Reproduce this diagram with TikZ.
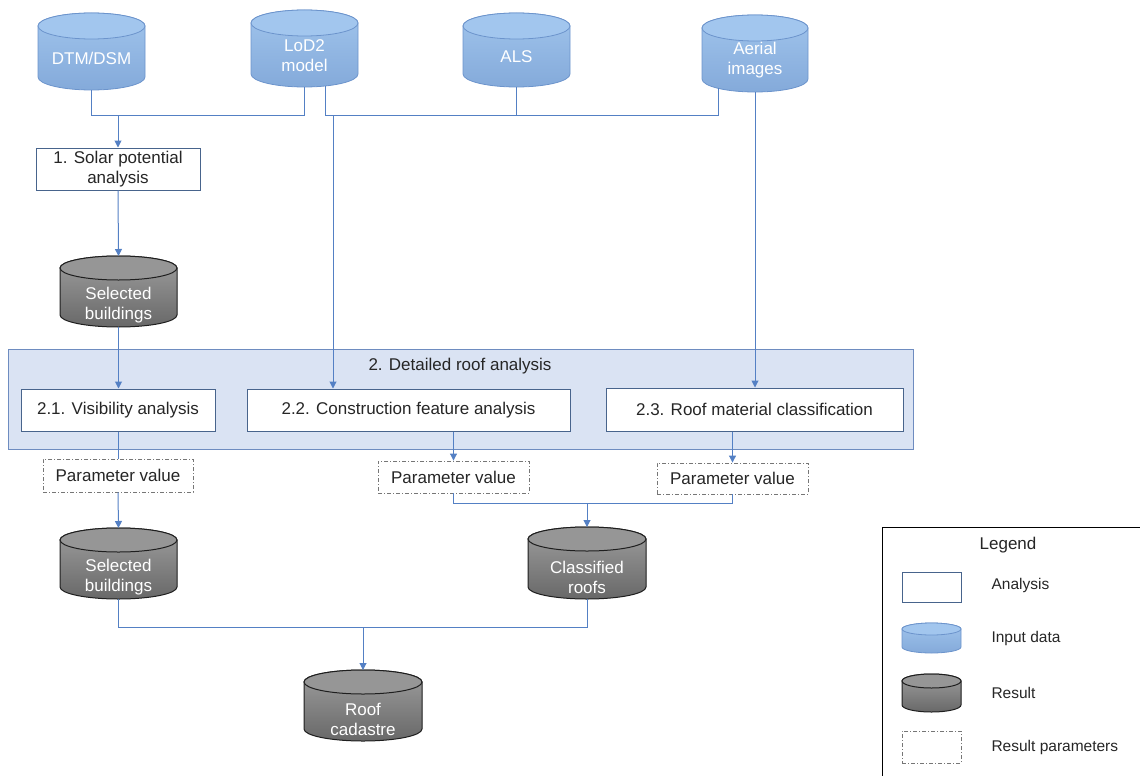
\documentclass[tikz,border=0pt]{standalone}
\usepackage{fontspec}
\setmainfont{Liberation Sans}
\usetikzlibrary{arrows.meta}

\definecolor{linkc}{RGB}{84,128,196}
\definecolor{boxline}{RGB}{72,100,140}
\definecolor{panelfill}{RGB}{218,227,243}
\definecolor{panelline}{RGB}{110,140,192}
\definecolor{inbody}{RGB}{160,196,236}
\definecolor{inbodydark}{RGB}{132,170,218}
\definecolor{intop}{RGB}{162,198,238}
\definecolor{inline}{RGB}{108,148,204}
\definecolor{resbody}{RGB}{158,158,158}
\definecolor{resbodydark}{RGB}{104,104,104}
\definecolor{restop}{RGB}{150,150,150}
\definecolor{resline}{RGB}{30,30,30}
\definecolor{txt}{RGB}{38,38,38}
\definecolor{dashline}{RGB}{118,118,118}

\tikzset{
  big/.style={font=\fontsize{17}{20}\selectfont},
  small/.style={font=\fontsize{15.5}{18}\selectfont},
  analysis/.style={big, draw=boxline, fill=white, line width=1pt, text=txt,
    inner sep=0pt, align=center},
  param/.style={big, draw=dashline, fill=white, line width=0.9pt,
    dash pattern=on 4pt off 2pt on 1pt off 2pt, text=txt, inner sep=0pt},
  link/.style={draw=linkc, line width=1pt},
  flow/.style={link, -{Triangle[length=7pt,width=7pt]}},
  input body/.style={top color=inbody, bottom color=inbodydark, draw=inline, line width=0.8pt},
  input top/.style={fill=intop, draw=inline, line width=0.8pt},
  input text/.style={big, text=white, align=center, yshift=-7pt},
  result body/.style={top color=resbody, bottom color=resbodydark, draw=resline, line width=1pt},
  result top/.style={fill=restop, draw=resline, line width=1pt},
  result text/.style={big, text=white, align=center, yshift=-14pt},
}

% \drum{name}{cx}{cy}{width}{height}{end radius}{kind}{text}
\newcommand\drum[8]{%
  \node[inner sep=0pt, outer sep=0pt, minimum width=#4pt, minimum height=#5pt] (#1) at (#2,#3) {};
  \path[#7 body] ([yshift=-#6pt]#1.north west) -- ([yshift=#6pt]#1.south west)
     arc[start angle=180, end angle=360, x radius=#4pt/2, y radius=#6pt]
     -- ([yshift=-#6pt]#1.north east)
     arc[start angle=0, end angle=180, x radius=#4pt/2, y radius=#6pt] -- cycle;
  \path[#7 top] ([yshift=-#6pt]#1.north) ellipse[x radius=#4pt/2, y radius=#6pt];
  \node[#7 text] (#1-text) at (#1.center) {#8};
}

\begin{document}
\begin{tikzpicture}[x=1pt,y=-1pt]
\clip (0,0) rectangle (1140,776);
\useasboundingbox (0,0) rectangle (1140,776);

% stage 2 panel
\node[draw=panelline, fill=panelfill, line width=1pt, minimum width=905pt,
      minimum height=100pt, inner sep=0pt] (stage2) at (460.5,399) {};
\node[big, text=txt] (stage2title) at (460,366) {2. Detailed roof analysis};

% input data
\drum{dtm}{91.5}{51.5}{107}{77}{13}{input}{DTM/DSM}
\drum{lod2}{304.5}{48.5}{107}{77}{13}{input}{LoD2\\model}
\drum{als}{516.5}{50}{107}{74}{13}{input}{ALS}
\drum{aerial}{755}{53.5}{106}{77}{13}{input}{Aerial\\images}

% analyses
\node[analysis, minimum width=164pt, minimum height=42pt] (solar) at (118,169)
  {1. Solar potential\\analysis};
\node[analysis, minimum width=194pt, minimum height=42pt] (b21) at (118,410)
  {2.1. Visibility analysis};
\node[analysis, minimum width=323pt, minimum height=42pt] (b22) at (408.5,410)
  {2.2. Construction feature analysis};
\node[analysis, minimum width=297pt, minimum height=43pt] (b23) at (754.5,409.5)
  {2.3. Roof material classification};

% parameter values
\node[param, minimum width=150pt, minimum height=33pt] (p1) at (118,475.5) {Parameter value};
\node[param, minimum width=151pt, minimum height=32pt] (p2) at (453.5,477) {Parameter value};
\node[param, minimum width=151pt, minimum height=31pt] (p3) at (732.5,478.5) {Parameter value};

% results
\drum{sel1}{118.5}{291.5}{117}{71}{12}{result}{Selected\\buildings}
\drum{sel2}{118.5}{563.5}{117}{71}{12}{result}{Selected\\buildings}
\drum{cls}{587}{563}{118}{72}{12}{result}{Classified\\roofs}
\drum{roof}{363}{705.5}{118}{71}{12}{result}{Roof\\cadastre}

% connectors
\coordinate (busA) at (0,115);
\coordinate (solarIn) at (118,115);
\coordinate (lodDrop) at (333,115);
\coordinate (busB) at (0,503);
\coordinate (busC) at (0,627);

\draw[link] (dtm.south) |- (lod2.south |- busA) -- (lod2.south);
\draw[flow] (solarIn) -- (solar.north);
\draw[link] ([xshift=21pt,yshift=1pt]lod2.south) |- ([xshift=-37pt]aerial.south |- busA)
  -- ([xshift=-37pt,yshift=4pt]aerial.south);
\draw[link] (als.south) -- (als.south |- busA);
\draw[flow] (lodDrop) -- (lodDrop |- b22.north);
\draw[flow] (aerial.south) -- (aerial.south |- b23.north);
\draw[flow] (solar.south) -- (sel1.north);
\draw[flow] (sel1.south) -- (sel1.south |- b21.north);
\draw[link] (b21.south) -- (p1.north);
\draw[flow] (p1.south) -- (sel2.north);
\draw[flow] (p2.north |- b22.south) -- (p2.north);
\draw[flow] (p3.north |- b23.south) -- (p3.north);
\draw[link] (p2.south) |- (p3.south |- busB) -- (p3.south);
\draw[flow] (cls.north |- busB) -- (cls.north);
\draw[link] (sel2.south) |- (cls.south |- busC) -- (cls.south);
\draw[flow] (roof.north |- busC) -- (roof.north);

% legend
\node[draw=black, line width=1pt, anchor=north west, minimum width=270pt,
      minimum height=270pt, inner sep=0pt] (legend) at (882,527) {};
\node[big, text=txt] (legtitle) at (1008,545) {Legend};
\node[analysis, minimum width=59pt, minimum height=30pt] (legA) at (931.5,587) {};
\node[small, text=txt, anchor=west] (legAtext) at (988,585) {Analysis};
\drum{legI}{931.5}{638}{59}{30}{6}{input}{}
\node[small, text=txt, anchor=west] (legItext) at (988,638) {Input data};
\drum{legR}{931.5}{693}{59}{38}{7}{result}{}
\node[small, text=txt, anchor=west] (legRtext) at (988,693) {Result};
\node[param, minimum width=59pt, minimum height=32pt] (legP) at (931.5,747) {};
\node[small, text=txt, anchor=west] (legPtext) at (988,747) {Result parameters};
\end{tikzpicture}
\end{document}
